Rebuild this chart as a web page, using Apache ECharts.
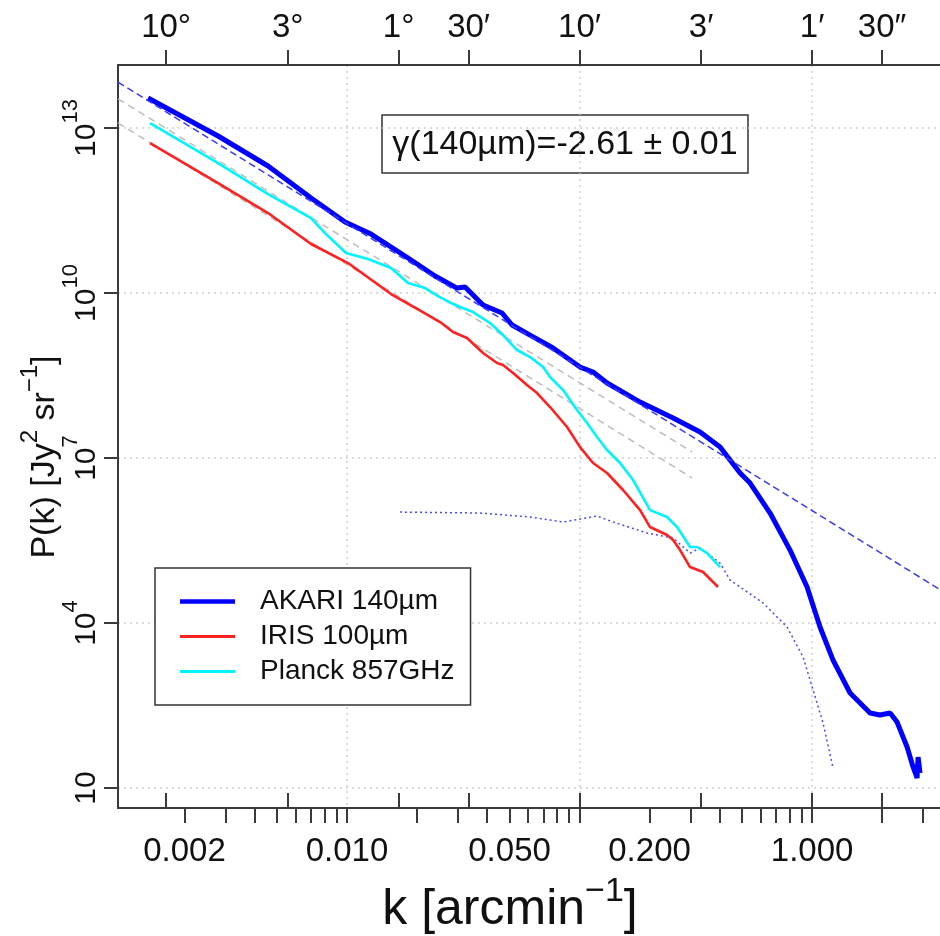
<!DOCTYPE html>
<html><head><meta charset="utf-8">
<script src="https://cdn.jsdelivr.net/npm/echarts@6/dist/echarts.min.js"></script>
<style>html,body{margin:0;padding:0;background:#fff}#c{width:940px;height:936px}</style>
</head><body><div id="c"></div>
<script>
// ---------- data (k in arcmin^-1, P in Jy^2 sr^-1) ----------
const akariK = [0.001393,0.002788,0.004573,0.007003,0.009804,0.01268,0.01776,0.02390,0.02972,0.03218,0.03845,0.04642,0.05125,0.06124,0.07691,0.1005,0.1143,0.1313,0.1821,0.2525,0.3299,0.4020,0.4901,0.5412,0.6597,0.8040,0.9517,1.082,1.231,1.457,1.776,1.961,2.165,2.321,2.563,2.719,2.829,2.857,2.914];
const akariP = [3.51e13,7.16e12,2.04e12,5.34e11,1.95e11,1.18e11,4.71e10,2.04e10,1.23e10,1.29e10,6.05e9,4.33e9,2.62e9,1.72e9,1.0e9,4.51e8,3.66e8,2.31e8,1.04e8,5.34e7,2.97e7,1.58e7,5.34e6,3.51e6,1.0e6,2.12e5,4.51e4,8.46e3,2.12e3,534,231,212,231,158,55.6,24.1,15.2,36.6,18.7];

const planckK = [0.001421,0.002788,0.004573,0.007003,0.008040,0.009901,0.01231,0.01546,0.01830,0.02165,0.02462,0.02802,0.03062,0.03483,0.04121,0.04688,0.05385,0.06124,0.06966,0.07465,0.08492,0.09754,0.1077,0.1189,0.1313,0.1493,0.1699,0.2010,0.2378,0.2627,0.2987,0.3201,0.3534,0.4020];
const planckP = [1.23e13,2.31e12,6.31e11,2.31e11,1.23e11,5.34e10,4.15e10,2.85e10,1.52e10,1.23e10,8.82e9,6.58e9,5.56e9,4.51e9,2.85e9,1.72e9,9.2e8,6.86e8,4.51e8,2.97e8,1.72e8,7.46e7,4.33e7,2.41e7,1.40e7,8.11e6,3.98e6,1.13e6,8.46e5,5.56e5,2.41e5,2.41e5,1.87e5,1.04e5];

const irisK = [0.001421,0.002788,0.004573,0.007003,0.01010,0.01546,0.02081,0.02512,0.02857,0.03282,0.03845,0.04417,0.04688,0.05176,0.05942,0.06564,0.07465,0.08834,0.1005,0.1143,0.1313,0.1538,0.1821,0.2010,0.2378,0.2525,0.2706,0.2987,0.3398,0.3941];
const irisP = [5.34e12,1.0e12,2.85e11,7.78e10,3.51e10,9.59e9,4.71e9,2.97e9,1.95e9,1.52e9,8.11e8,5.34e8,4.91e8,3.51e8,2.12e8,1.52e8,8.46e7,3.66e7,1.58e7,8.11e6,5.34e6,2.62e6,1.13e6,5.56e5,3.98e5,3.23e5,2.12e5,1.04e5,8.46e4,4.51e4];

const dotK = [0.01690,0.03733,0.06124,0.08492,0.1189,0.1393,0.1951,0.2525,0.2987,0.3299,0.4020,0.4440,0.6155,0.7807,0.9147,1.010,1.115,1.231];
const dotP = [1.04e6,1.0e6,8.46e5,6.86e5,8.82e5,6.86e5,4.33e5,3.51e5,1.87e5,2.31e5,1.23e5,6.05e4,2.31e4,8.46e3,2.41e3,605,152,23.1];

const fitK = [0.001035, 3.55];
const fitP = [6.82e13, 4.05e4];
const grayFit1K = [0.001035, 0.305];
const grayFit1P = [3.40e13, 1.29e7];
const grayFit2K = [0.001035, 0.305];
const grayFit2P = [1.24e13, 4.33e6];

// ---------- axis ranges and ticks ----------
const K_MIN = 0.001035, K_MAX = 3.55;
const P_MIN = 4.33, P_MAX = 1.40e14;
const kLabelValues = [0.002, 0.010, 0.050, 0.200, 1.000];
const kLabels = ['0.002', '0.010', '0.050', '0.200', '1.000'];
const kMinorTicks = [0.002,0.003,0.004,0.005,0.006,0.007,0.008,0.009,0.01,0.02,0.03,0.04,0.05,0.06,0.07,0.08,0.09,0.1,0.2,0.3,0.4,0.5,0.6,0.7,0.8,0.9,1,2,3];
const angleArcmin = [600, 180, 60, 30, 10, 3, 1, 0.5];
const angleLabels = ['10°', '3°', '1°', '30′', '10′', '3′', '1′', '30″'];
const kGrid = [0.01, 0.1, 1];
const pTickExp = [1, 4, 7, 10, 13];

const legendNames = ['AKARI 140µm', 'IRIS 100µm', 'Planck 857GHz'];
const annotation = 'γ(140µm)=-2.61 ± 0.01';

// ---------- helpers ----------
const L = Math.log10;
const FONT = '"Liberation Sans", Arial, Helvetica, sans-serif';
const toXY = (ks, ps) => ks.map((k, i) => [L(k), L(ps[i])]);
function nearest(vals, labels, v) {
  let bi = 0, bd = Infinity;
  vals.forEach((x, i) => { const d = Math.abs(x - v); if (d < bd) { bd = d; bi = i; } });
  return labels[bi];
}
const angleK = angleArcmin.map(a => L(1 / a));
const kLab = kLabelValues.map(L);
const axisCol = '#3a3a3a';
const gridLine = { show: true, lineStyle: { color: '#d0d0d0', width: 1.5, type: [2, 4] } };

const xBase = { type: 'value', min: L(K_MIN), max: L(K_MAX), gridIndex: 0 };

const option = {
  animation: false,
  backgroundColor: '#fff',
  grid: { left: 118, right: 0, top: 65, bottom: 128, containLabel: false },
  xAxis: [
    Object.assign({}, xBase, {
      position: 'bottom',
      axisLine: { show: true, onZero: false, lineStyle: { color: axisCol, width: 2 } },
      axisTick: { show: true, customValues: kMinorTicks.map(L), length: 15, lineStyle: { color: axisCol, width: 2 } },
      axisLabel: { show: true, customValues: kLab, margin: 27, fontSize: 33, fontFamily: FONT, color: '#111',
        formatter: v => nearest(kLab, kLabels, v) },
      splitLine: { show: false }
    }),
    Object.assign({}, xBase, {
      position: 'bottom',
      axisLine: { show: false, onZero: false },
      axisTick: { show: true, inside: true, customValues: angleK, length: 15, lineStyle: { color: axisCol, width: 2 } },
      axisLabel: { show: false },
      splitLine: { show: false }
    }),
    Object.assign({}, xBase, {
      position: 'top',
      axisLine: { show: true, onZero: false, lineStyle: { color: axisCol, width: 2 } },
      axisTick: { show: true, customValues: angleK, length: 15, lineStyle: { color: axisCol, width: 2 } },
      axisLabel: { show: true, customValues: angleK, margin: 21, fontSize: 33, fontFamily: FONT, color: '#111',
        formatter: v => nearest(angleK, angleLabels, v) },
      splitLine: { show: false }
    }),
    Object.assign({}, xBase, {
      position: 'bottom',
      axisLine: { show: false, onZero: false },
      axisTick: { show: false, customValues: kGrid.map(L) },
      axisLabel: { show: false },
      splitLine: gridLine
    })
  ],
  yAxis: [{
    type: 'value', min: L(P_MIN), max: L(P_MAX), position: 'left',
    axisLine: { show: true, onZero: false, lineStyle: { color: axisCol, width: 2 } },
    axisTick: { show: true, customValues: pTickExp, length: 14, lineStyle: { color: axisCol, width: 2 } },
    axisLabel: {
      show: true, customValues: pTickExp, rotate: 90, margin: 16,
      formatter: v => { const e = Math.round(v); return e === 1 ? '{b|10}' : '{b|10}{s|' + e + '}'; },
      rich: {
        b: { fontSize: 30, fontFamily: FONT, color: '#111', lineHeight: 42, verticalAlign: 'bottom' },
        s: { fontSize: 22, fontFamily: FONT, color: '#111', lineHeight: 22, verticalAlign: 'top' }
      }
    },
    splitLine: gridLine
  }],
  legend: {
    data: [
      { name: legendNames[0], icon: 'path://M0,0 L55,0 L55,4.5 L0,4.5 Z' },
      { name: legendNames[1], icon: 'path://M0,0 L55,0 L55,3 L0,3 Z' },
      { name: legendNames[2], icon: 'path://M0,0 L55,0 L55,3 L0,3 Z' }
    ],
    orient: 'vertical', left: 155, top: 568,
    padding: [18, 16, 18, 25], itemGap: 4, itemWidth: 55, itemHeight: 14,
    borderColor: '#333', borderWidth: 1.5, backgroundColor: '#fff', borderRadius: 0,
    textStyle: { fontSize: 28, fontFamily: FONT, color: '#111', lineHeight: 31, padding: [0, 0, 0, 20] },
    selectedMode: false
  },
  series: [
    { name: 'fit1', type: 'line', data: toXY(grayFit1K, grayFit1P), symbol: 'none', silent: true,
      lineStyle: { color: '#bdbdbd', width: 1.5, type: [7, 5] }, z: 1 },
    { name: 'fit2', type: 'line', data: toXY(grayFit2K, grayFit2P), symbol: 'none', silent: true,
      lineStyle: { color: '#bdbdbd', width: 1.5, type: [7, 5] }, z: 1 },
    { name: 'noise', type: 'line', data: toXY(dotK, dotP), symbol: 'none', silent: true,
      lineStyle: { color: '#4a4aff', width: 1.5, type: [2, 3] }, z: 2 },
    { name: legendNames[1], type: 'line', data: toXY(irisK, irisP), symbol: 'none',
      lineStyle: { color: '#ff2020', width: 2.6 }, itemStyle: { color: '#ff2020' }, z: 3 },
    { name: legendNames[2], type: 'line', data: toXY(planckK, planckP), symbol: 'none',
      lineStyle: { color: '#00f4ff', width: 2.6 }, itemStyle: { color: '#00f4ff' }, z: 3 },
    { name: legendNames[0], type: 'line', data: toXY(akariK, akariP), symbol: 'none',
      lineStyle: { color: '#0000ff', width: 5 }, itemStyle: { color: '#0000ff' }, z: 4 },
    { name: 'fitAkari', type: 'line', data: toXY(fitK, fitP), symbol: 'none', silent: true,
      lineStyle: { color: '#3a3aff', width: 1.5, type: [7, 4] }, z: 5 }
  ],
  graphic: [
    { type: 'group', z: 10, children: [
      { type: 'rect', shape: { x: 382, y: 115, width: 366, height: 58 },
        style: { fill: '#fff', stroke: '#333', lineWidth: 1.5 } },
      { type: 'text', x: 565, y: 145, style: { text: annotation, fontSize: 34, fontFamily: FONT, fill: '#111', align: 'center', verticalAlign: 'middle' } }
    ]},
    { type: 'text', x: 40, y: 457, rotation: Math.PI / 2, z: 10,
      style: { text: '{n|P(k) [Jy}{s|2}{n| sr}{s|\u22121}{n|]}', align: 'center', verticalAlign: 'middle',
        rich: { n: { fontSize: 34, fontFamily: FONT, fill: '#111', lineHeight: 44, verticalAlign: 'bottom' },
                s: { fontSize: 24, fontFamily: FONT, fill: '#111', lineHeight: 24, verticalAlign: 'top' } } } },
    { type: 'text', x: 510, y: 905, z: 10,
      style: { text: '{n|k [arcmin}{s|\u22121}{n|]}', align: 'center', verticalAlign: 'middle',
        rich: { n: { fontSize: 50, fontFamily: FONT, fill: '#111', lineHeight: 60, verticalAlign: 'bottom' },
                s: { fontSize: 34, fontFamily: FONT, fill: '#111', lineHeight: 34, verticalAlign: 'top' } } } }
  ]
};
const chart = echarts.init(document.getElementById('c'), null, { renderer: 'canvas' });
chart.setOption(option);
</script></body></html>
